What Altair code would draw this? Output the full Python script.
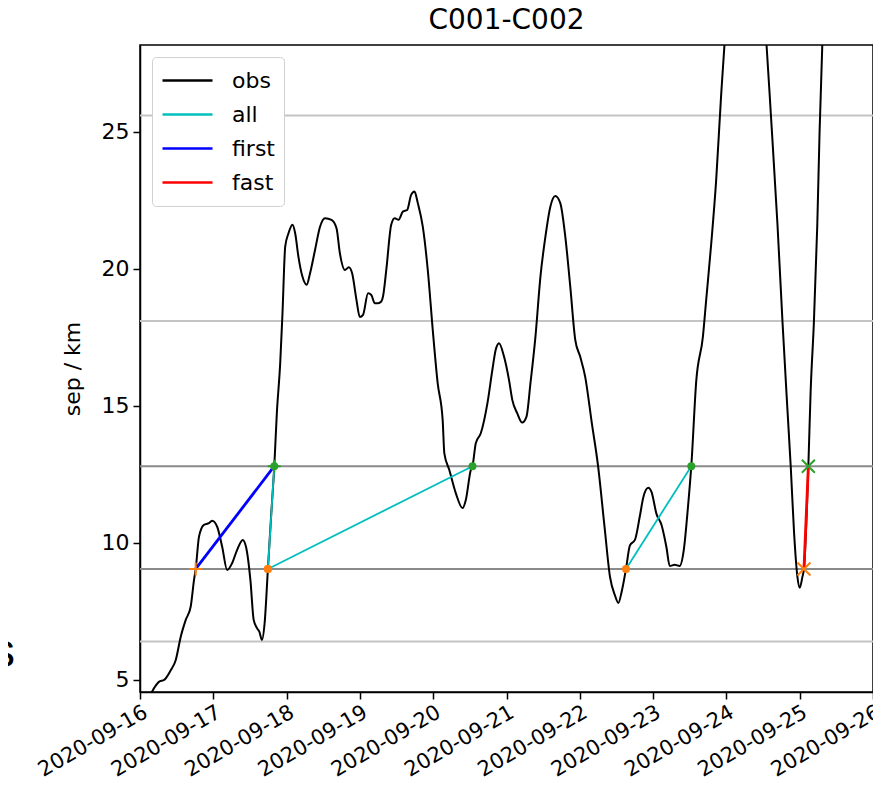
import altair as alt
import pandas as pd

# ---------------- data ----------------
# observed separation: day offset from 2020-09-16 00:00 UTC, separation in km
obs_day = [0.000, 0.149, 0.194, 0.262, 0.330, 0.421, 0.488, 0.556, 0.624, 0.692,
           0.737, 0.760, 0.805, 0.872, 0.940, 0.985, 1.053, 1.121, 1.189, 1.256,
           1.324, 1.402, 1.446, 1.506, 1.551, 1.596, 1.628, 1.664, 1.700, 1.745,
           1.791, 1.832, 1.867, 1.913, 1.944, 1.981, 2.026, 2.080, 2.117, 2.161,
           2.216, 2.274, 2.320, 2.388, 2.456, 2.524, 2.613, 2.681, 2.727, 2.795,
           2.849, 2.894, 2.953, 2.999, 3.043, 3.111, 3.156, 3.202, 3.247, 3.292,
           3.315, 3.360, 3.427, 3.474, 3.528, 3.586, 3.645, 3.699, 3.745, 3.790,
           3.858, 3.926, 3.994, 4.061, 4.129, 4.152, 4.220, 4.309, 4.400, 4.445,
           4.513, 4.536, 4.581, 4.649, 4.740, 4.807, 4.852, 4.898, 4.966, 5.034,
           5.079, 5.147, 5.214, 5.273, 5.327, 5.395, 5.463, 5.531, 5.598, 5.666,
           5.734, 5.802, 5.870, 5.938, 6.005, 6.073, 6.164, 6.249, 6.339, 6.412,
           6.480, 6.526, 6.571, 6.630, 6.684, 6.752, 6.820, 6.866, 6.934, 6.978,
           7.046, 7.114, 7.182, 7.227, 7.295, 7.362, 7.417, 7.476, 7.521, 7.589,
           7.680, 7.725, 7.793, 7.860, 7.928, 7.973, 8.064, 8.260, 8.470, 8.548,
           8.606, 8.697, 8.765, 8.833, 8.878, 8.923, 8.969, 9.000, 9.037, 9.058,
           9.118, 9.149, 9.194, 9.240, 9.271, 9.308, 9.353]
obs_km = [4.27, 4.51, 4.71, 4.94, 5.00, 5.36, 5.73, 6.58, 7.19, 7.68,
          8.65, 9.05, 10.23, 10.66, 10.72, 10.81, 10.59, 9.86, 9.01, 9.26,
          9.74, 10.11, 9.86, 8.65, 7.19, 6.89, 6.76, 6.46, 7.07, 9.05,
          11.08, 12.80, 14.74, 16.57, 18.39, 20.81, 21.30, 21.61, 21.30, 20.45,
          19.72, 19.42, 19.84, 20.69, 21.54, 21.85, 21.79, 21.48, 20.57, 19.96,
          20.06, 19.84, 18.87, 18.24, 18.32, 19.11, 19.05, 18.75, 18.75, 18.81,
          18.99, 19.96, 21.61, 21.85, 21.79, 22.09, 22.15, 22.70, 22.82, 22.40,
          21.54, 19.96, 17.77, 15.83, 14.49, 13.27, 12.66, 11.81, 11.27, 11.57,
          12.66, 12.80, 13.64, 14.00, 15.10, 16.31, 17.04, 17.29, 16.80, 15.95,
          15.22, 14.73, 14.39, 14.61, 15.83, 17.53, 19.72, 21.18, 22.27, 22.66,
          22.40, 21.18, 19.35, 17.41, 16.80, 16.07, 14.37, 12.81, 10.55, 8.76,
          8.08, 7.81, 8.22, 9.05, 9.91, 10.11, 10.99, 11.66, 12.01, 11.86,
          11.06, 10.66, 9.84, 9.16, 9.20, 9.16, 9.71, 11.32, 12.80, 15.92,
          17.54, 18.89, 20.92, 23.22, 26.33, 28.15, 30.50, 32.00, 30.50, 28.15,
          25.66, 21.61, 18.08, 14.85, 12.77, 10.38, 8.76, 8.36, 8.76, 9.05,
          12.80, 15.51, 18.08, 21.61, 24.98, 28.15, 30.20]

# threshold levels (km)
light_levels = [6.4, 18.1, 25.6]
dark_levels = [9.05, 12.8]

# pair segments: series, segment id, start day, end day, start km, end km
seg_series = ["all", "all", "all", "first", "fast"]
seg_id = ["a1", "a2", "a3", "f1", "x1"]
seg_day0 = [1.745, 1.745, 6.630, 0.760, 9.058]
seg_day1 = [1.832, 4.536, 7.521, 1.832, 9.118]
seg_km0 = [9.05, 9.05, 9.05, 9.05, 9.05]
seg_km1 = [12.8, 12.8, 12.8, 12.8, 12.8]

series_names = ["obs", "all", "first", "fast"]
series_colors = ["#000000", "#00bfbf", "#0000ff", "#ff0000"]

tick_days = list(range(16, 27))
title_text = "C001-C002"
y_title = "sep / km"
y_ticks = [5, 10, 15, 20, 25]
y_domain = [4.56, 28.17]

# ---------------- build tables ----------------
base = pd.Timestamp("2020-09-16")


def to_iso(d):
    return (base + pd.to_timedelta(d, unit="D")).strftime("%Y-%m-%dT%H:%M:%SZ")


obs_df = pd.DataFrame({"t": [to_iso(d) for d in obs_day], "km": obs_km, "series": "obs"})

seg_rows = []
for s, i, d0, d1, k0, k1 in zip(seg_series, seg_id, seg_day0, seg_day1, seg_km0, seg_km1):
    seg_rows.append({"t": to_iso(d0), "km": k0, "series": s, "seg": i, "end": "start"})
    seg_rows.append({"t": to_iso(d1), "km": k1, "series": s, "seg": i, "end": "end"})
seg_df = pd.DataFrame(seg_rows)

ORANGE = "#ff7f0e"
GREEN = "#2ca02c"
PLUS = "M-1,0L1,0M0,-1L0,1"
XSHAPE = "M-1,-1L1,1M-1,1L1,-1"

circ_rows, cross_rows = [], []
for r in seg_rows:
    col = ORANGE if r["end"] == "start" else GREEN
    if r["series"] == "all":
        circ_rows.append({"t": r["t"], "km": r["km"], "col": col})
    elif r["series"] == "first":
        cross_rows.append({"t": r["t"], "km": r["km"], "col": col, "shape": PLUS})
    else:
        cross_rows.append({"t": r["t"], "km": r["km"], "col": col, "shape": XSHAPE})
circ_df = pd.DataFrame(circ_rows)
cross_df = pd.DataFrame(cross_rows)

FONT = "DejaVu Sans"

x_enc = alt.X(
    "t:T",
    scale=alt.Scale(
        type="utc",
        domain=[alt.DateTime(year=2020, month=9, date=16, utc=True),
                alt.DateTime(year=2020, month=9, date=26, utc=True)],
    ),
    axis=alt.Axis(
        values=[alt.DateTime(year=2020, month=9, date=d, utc=True) for d in tick_days],
        labelExpr="utcFormat(datum.value, '%Y-%m-%d')",
        labelAngle=-30,
        labelAlign="right",
        labelBaseline="top",
        labelFontSize=21,
        labelFont=FONT,
        labelColor="black",
        labelPadding=2,
        labelOverlap=False,
        labelFlush=False,
        tickSize=7,
        tickWidth=1.5,
        tickColor="black",
        domainColor="black",
        domainWidth=1.5,
        grid=False,
        title=None,
    ),
)
y_enc = alt.Y(
    "km:Q",
    scale=alt.Scale(domain=y_domain, nice=False, zero=False),
    axis=alt.Axis(
        values=y_ticks,
        title=y_title,
        titleFont=FONT,
        titleFontSize=22,
        titleFontWeight="normal",
        titleColor="black",
        titlePadding=17,
        labelFontSize=22,
        labelFont=FONT,
        labelColor="black",
        labelPadding=4,
        tickSize=7,
        tickWidth=1.5,
        tickColor="black",
        domainColor="black",
        domainWidth=1.5,
        grid=False,
    ),
)

legend = alt.Legend(
    title=None,
    orient="none",
    legendX=12,
    legendY=12,
    symbolType="stroke",
    symbolSize=2500,
    symbolStrokeWidth=2.5,
    labelFontSize=22,
    labelFont=FONT,
    labelColor="black",
    fillColor="white",
    strokeColor="#d0d0d0",
    cornerRadius=4,
    padding=9,
    clipHeight=29,
    rowPadding=5,
    labelOffset=18,
)
color_enc = alt.Color(
    "series:N",
    scale=alt.Scale(domain=series_names, range=series_colors),
    legend=legend,
)

light = alt.Chart(pd.DataFrame({"km": light_levels})).mark_rule(
    color="#c4c4c4", strokeWidth=2).encode(y=alt.Y("km:Q"))
dark = alt.Chart(pd.DataFrame({"km": dark_levels})).mark_rule(
    color="#8a8a8a", strokeWidth=2).encode(y=alt.Y("km:Q"))

obs = alt.Chart(obs_df).mark_line(strokeWidth=2, clip=True, interpolate="monotone").encode(
    x=x_enc, y=y_enc, color=color_enc)

seg_all = alt.Chart(seg_df[seg_df.series == "all"]).mark_line(strokeWidth=1.8).encode(
    x="t:T", y="km:Q", color=color_enc, detail="seg:N")
seg_first = alt.Chart(seg_df[seg_df.series == "first"]).mark_line(strokeWidth=2.8).encode(
    x="t:T", y="km:Q", color=color_enc, detail="seg:N")
seg_fast = alt.Chart(seg_df[seg_df.series == "fast"]).mark_line(strokeWidth=2.8).encode(
    x="t:T", y="km:Q", color=color_enc, detail="seg:N")

circles = alt.Chart(circ_df).mark_point(filled=True, shape="circle", size=64, opacity=1).encode(
    x="t:T", y="km:Q", fill=alt.Fill("col:N", scale=None))
crosses = alt.Chart(cross_df).mark_point(filled=False, size=169, strokeWidth=2, opacity=1).encode(
    x="t:T", y="km:Q",
    stroke=alt.Stroke("col:N", scale=None),
    shape=alt.Shape("shape:N", scale=None))

s_text = alt.Chart(pd.DataFrame({"txt": ["s"]})).mark_text(
    fontSize=48, font="Liberation Sans", align="right", baseline="alphabetic", color="black"
).encode(text="txt:N", x=alt.value(-125), y=alt.value(622))

chart = alt.layer(
    light, dark, obs, seg_all, seg_first, seg_fast, circles, crosses, s_text
).properties(
    width=733,
    height=647,
    title=alt.Title(title_text, font=FONT, fontSize=28, fontWeight="normal",
                    color="black", offset=10),
    padding={"left": 132, "top": 37, "right": 0, "bottom": 90},
    autosize=alt.AutoSizeParams(type="none"),
).configure_view(
    stroke="black", strokeWidth=1.5
)

chart.save("out.html", embed_options={"renderer": "svg", "actions": False})
